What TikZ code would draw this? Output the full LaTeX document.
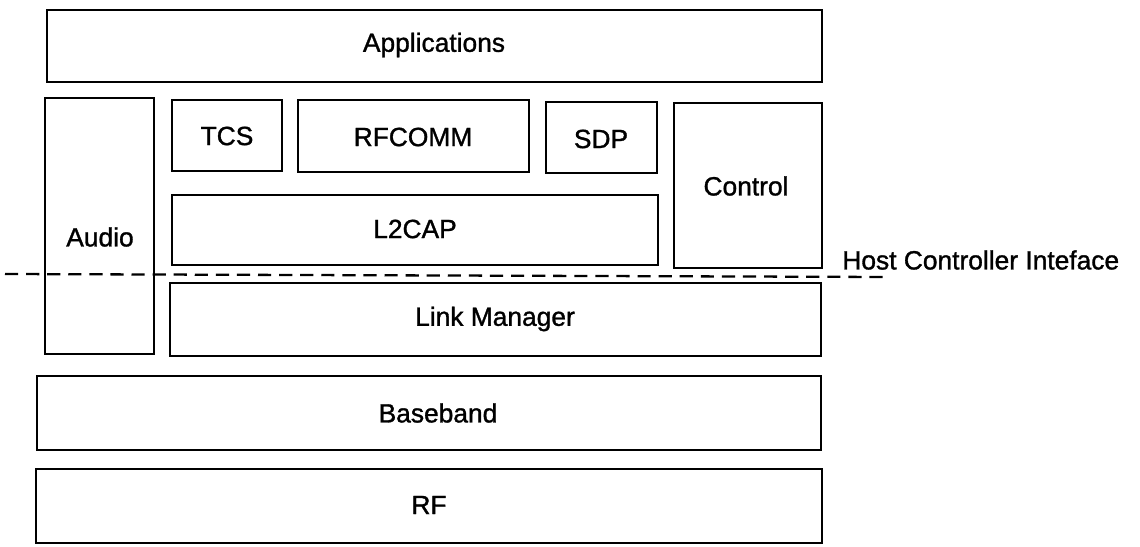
\documentclass[tikz,border=0pt]{standalone}
\usepackage{fontspec}
\setmainfont{Liberation Sans}[FakeBold=1.2]
\begin{document}
\begin{tikzpicture}[x=0.02cm,y=-0.02cm,
  layer/.style={draw=black, line width=1.3pt},
  lbl/.style={font=\fontsize{15}{18}\selectfont, inner sep=0pt},
  hci/.style={draw=black, line width=1.3pt, dash pattern=on 7.5pt off 4.5pt}]
\useasboundingbox (0,0) rectangle (1140,547);
% boxes
\draw[layer] (47,10) rectangle (822,82);
\node[lbl] (app) at (434,45) {Applications};
\draw[layer] (45,98) rectangle (154,354);
\node[lbl] (audio) at (100,237) {Audio};
\draw[layer] (172,100) rectangle (282,171);
\node[lbl] (tcs) at (227,136) {TCS};
\draw[layer] (298,100) rectangle (529,172);
\node[lbl] (rfcomm) at (413,137) {RFCOMM};
\draw[layer] (546,102) rectangle (657,173);
\node[lbl] (sdp) at (601,139) {SDP};
\draw[layer] (674,103) rectangle (822,268);
\node[lbl] (control) at (746,186) {Control};
\draw[layer] (172,195) rectangle (658,265);
\node[lbl] (l2cap) at (415,229) {L2CAP};
\draw[layer] (170,283) rectangle (821,356);
\node[lbl] (lm) at (495,319) {Link Manager};
\draw[layer] (37,376) rectangle (821,450);
\node[lbl] (bb) at (438,413) {Baseband};
\draw[layer] (36,469) rectangle (822,543);
\node[lbl] (rf) at (429,505) {RF};
% host controller interface
\coordinate (hl) at (5,274);
\coordinate (hr) at (888,277);
\draw[hci] (hl) -- (hr);
\node[lbl, anchor=west] (hcilbl) at (842,260) {Host Controller Inteface};
\end{tikzpicture}
\end{document}
